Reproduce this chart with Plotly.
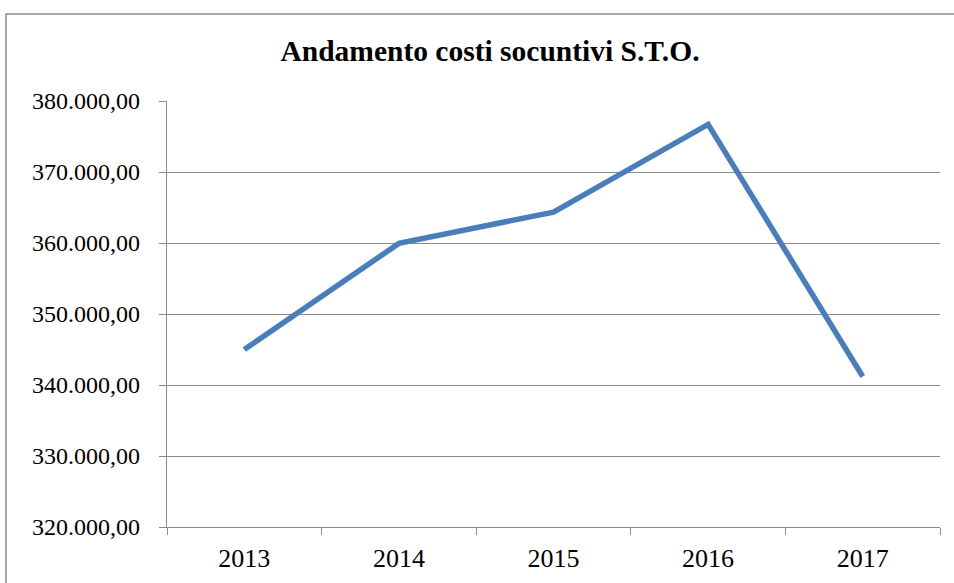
import plotly.graph_objects as go

years = ["2013", "2014", "2015", "2016", "2017"]
costs = [345000, 359950, 364350, 376700, 341200]
title_text = "Andamento costi socuntivi S.T.O."
y_ticks = [320000, 330000, 340000, 350000, 360000, 370000, 380000]

W, H = 954, 583
L, R, T, B = 167, 14, 101, 56
pw, ph = W - L - R, H - T - B

fig = go.Figure()
fig.add_trace(go.Scatter(
    x=years, y=costs, mode="lines",
    line=dict(color="#4A7EBB", width=5.5),
    hoverinfo="skip",
))

grid_color = "#8C8C8C"
font_family = "Liberation Serif"

fig.update_layout(
    width=W, height=H,
    margin=dict(l=L, r=R, t=T, b=B, autoexpand=False),
    paper_bgcolor="white", plot_bgcolor="white",
    separators=",.",
    showlegend=False,
    font=dict(family=font_family, color="black", size=24),
    title=dict(text="<b>" + title_text + "</b>", x=490 / W, xanchor="center",
               y=1 - 51 / H, yanchor="middle",
               font=dict(family=font_family, size=29.5, color="black")),
    xaxis=dict(
        type="category", range=[-0.5, 4.5], tickson="boundaries",
        ticks="outside", ticklen=7,
        tickcolor=grid_color, tickwidth=1.3,
        showline=True, linecolor=grid_color, linewidth=1.3,
        showgrid=False, tickfont=dict(family=font_family, size=26),
        ticklabelstandoff=8,
        fixedrange=True, automargin=False,
    ),
    yaxis=dict(
        range=[320000, 380000], tickvals=y_ticks, tickformat=",.2f",
        ticks="outside", ticklen=7, tickcolor=grid_color, tickwidth=1.3,
        showline=True, linecolor=grid_color, linewidth=1.3,
        showgrid=True, gridcolor=grid_color, gridwidth=1.3,
        zeroline=False, tickfont=dict(family=font_family, size=24),
        ticklabelstandoff=14, fixedrange=True, automargin=False,
    ),
)

# chart-area border (extends past the right and bottom edges as in the reference)
fig.add_shape(type="rect", xref="paper", yref="paper",
              x0=(6 - L) / pw, x1=(W + 10 - L) / pw,
              y0=-(B + 10) / ph, y1=1 + (T - 14) / ph,
              line=dict(color="#8C8C8C", width=1.5), fillcolor="rgba(0,0,0,0)",
              layer="below")

fig.write_html("out.html", config={"displayModeBar": False},
               post_script="document.body.style.margin='0';document.body.style.overflow='hidden';")
